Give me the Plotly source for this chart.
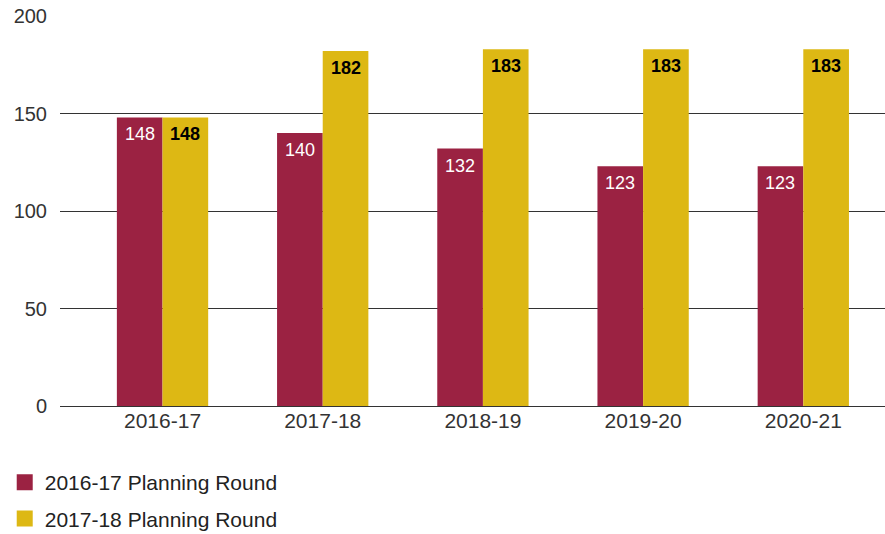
import plotly.graph_objects as go

categories = ["2016-17", "2017-18", "2018-19", "2019-20", "2020-21"]
round_2016 = [148, 140, 132, 123, 123]
round_2017 = [148, 182, 183, 183, 183]
series_names = ["2016-17 Planning Round", "2017-18 Planning Round"]

RED = "#9B2242"
YELLOW = "#DDB814"
FONT = "Liberation Sans, Arial, sans-serif"

BARGAP = 0.43
PX_PER_CAT = 160.1
half_bar_px = (1 - BARGAP) / 2 * PX_PER_CAT / 2

fig = go.Figure()
fig.add_trace(go.Bar(
    x=categories, y=round_2016, name=series_names[0],
    marker=dict(color=RED, line=dict(width=0)), showlegend=False,
))
fig.add_trace(go.Bar(
    x=categories, y=round_2017, name=series_names[1],
    marker=dict(color=YELLOW, line=dict(width=0)), showlegend=False,
))
# legend entries
for name, col in zip(series_names, [RED, YELLOW]):
    fig.add_trace(go.Scatter(
        x=[None], y=[None], mode="markers", name=name, legendgroup=name,
        marker=dict(symbol="square", size=16, color=col),
    ))

annotations = []
for cat, v in zip(categories, round_2016):
    annotations.append(dict(x=cat, y=v, xref="x", yref="y", text=str(v),
                            showarrow=False, xshift=-half_bar_px, yshift=-17,
                            yanchor="middle",
                            font=dict(color="white", size=18, family=FONT)))
for cat, v in zip(categories, round_2017):
    annotations.append(dict(x=cat, y=v, xref="x", yref="y", text=f"<b>{v}</b>",
                            showarrow=False, xshift=half_bar_px, yshift=-17,
                            yanchor="middle",
                            font=dict(color="black", size=18, family=FONT)))

fig.update_layout(
    width=885, height=534,
    margin=dict(l=60, r=0, t=16, b=128, autoexpand=False),
    paper_bgcolor="white", plot_bgcolor="white",
    barmode="group", bargap=BARGAP, bargroupgap=0,
    font=dict(family=FONT, size=20, color="#333333"),
    showlegend=True,
    legend=dict(orientation="v", x=-0.067, xanchor="left", y=-0.1436, yanchor="top",
                font=dict(size=21, color="#222222"), tracegroupgap=6,
                itemwidth=30),
    annotations=annotations,
)
fig.update_xaxes(range=[-0.64, 4.51], showgrid=False, showline=False, ticks="",
                 tickfont=dict(size=21, color="#333333"))
fig.update_yaxes(range=[0, 200], tickvals=[0, 50, 100, 150, 200],
                 showgrid=True, gridcolor="#333333", gridwidth=1,
                 zeroline=True, zerolinecolor="#333333", zerolinewidth=1,
                 showline=False, ticks="", ticklabelstandoff=12,
                 tickfont=dict(size=20, color="#333333"))

fig.write_html("out.html")
